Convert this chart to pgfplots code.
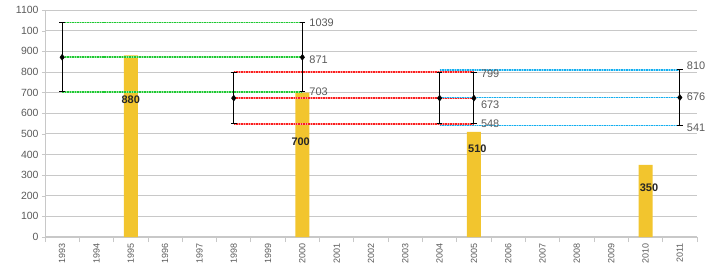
\documentclass[border=0pt]{standalone}
\usepackage{pgfplots}
\pgfplotsset{compat=1.18}
\usepackage{fontspec}
\setmainfont{Liberation Sans}
\definecolor{barc}{RGB}{242,197,46}
\definecolor{gridc}{RGB}{200,200,200}
\definecolor{txtc}{RGB}{90,90,90}
\definecolor{gc}{RGB}{30,200,50}
\definecolor{rc}{RGB}{250,30,30}
\definecolor{bc}{RGB}{20,175,240}
\begin{document}
\begin{tikzpicture}
\begin{axis}[
  scale only axis, width=652bp, height=227bp,
  xmin=-0.5, xmax=18.5, ymin=0, ymax=1100,
  axis lines*=left,
  axis line style={draw=gridc, line width=0.8pt},
  x axis line style={line width=1.4pt, -},
  y axis line style={-},
  ytick={0,100,...,1100},
  yticklabels={0,100,200,300,400,500,600,700,800,900,100,1100},
  xtick={0,...,18},
  xticklabels={1993,1994,1995,1996,1997,1998,1999,2000,2001,2002,2003,2004,2005,2006,2007,2008,2009,2010,2011},
  x tick label style={rotate=90, anchor=east, font=\fontsize{9}{10}\selectfont, text=txtc},
  y tick label style={font=\fontsize{10.5}{11}\selectfont, text=txtc},
  minor xtick={-0.5,0.5,...,18.5},
  major x tick style={draw=none},
  minor x tick style={draw=gridc, line width=0.8pt},
  minor tick length=5bp,
  major tick length=3bp,
  y tick style={draw=gridc},
  tick align=outside,
  ymajorgrids, major grid style={draw=gridc, line width=0.7pt},
  /pgf/number format/assume math mode=true,
  clip=false,
  dl/.style={line width=1.6pt, dash pattern=on 1.5pt off 1pt},
  ul/.style={line width=1.6pt},
]
% bars
\addplot[ybar, bar width=14bp, fill=barc, draw=none] coordinates {(2,880) (7,700) (12,510) (17,350)};
% green dotted lines
\addplot[draw=gc!45, ul] coordinates {(0,1039) (7,1039)};
\addplot[draw=gc!45, ul] coordinates {(0,871) (7,871)};
\addplot[draw=gc!45, ul] coordinates {(0,703) (7,703)};
\addplot[draw=gc, dl] coordinates {(0,1039) (7,1039)};
\addplot[draw=gc, dl] coordinates {(0,871) (7,871)};
\addplot[draw=gc, dl] coordinates {(0,703) (7,703)};
% red dotted lines
\addplot[draw=rc!45, ul] coordinates {(5,799) (12,799)};
\addplot[draw=rc!45, ul] coordinates {(5,673) (12,673)};
\addplot[draw=rc!45, ul] coordinates {(5,548) (12,548)};
\addplot[draw=rc, dl] coordinates {(5,799) (12,799)};
\addplot[draw=rc, dl] coordinates {(5,673) (12,673)};
\addplot[draw=rc, dl] coordinates {(5,548) (12,548)};
% blue dotted lines
\addplot[draw=bc!45, ul] coordinates {(11,810) (18,810)};
\addplot[draw=bc!45, ul] coordinates {(11,676) (18,676)};
\addplot[draw=bc!45, ul] coordinates {(11,541) (18,541)};
\addplot[draw=bc, dl] coordinates {(11,810) (18,810)};
\addplot[draw=bc, dl] coordinates {(11,676) (18,676)};
\addplot[draw=bc, dl] coordinates {(11,541) (18,541)};
% error bars
\addplot[black, only marks, mark=diamond*, mark size=3pt,
  error bars/.cd, y dir=both, y explicit,
  error bar style={line width=1.1pt, black},
  error mark options={rotate=90, mark size=2.8bp, line width=1.1pt, black}]
  coordinates {
  (0,871) += (0,168) -= (0,168)
  (7,871) += (0,168) -= (0,168)
  (5,673) += (0,126) -= (0,125)
  (11,673) += (0,126) -= (0,125)
  (12,673) += (0,126) -= (0,125)
  (18,676) += (0,134) -= (0,135)
  };
% value labels
\begin{scope}[every node/.style={font=\fontsize{11}{12}\selectfont, text=txtc, inner sep=0pt}]
\node[anchor=west] at (axis cs:7.2,1039) {1039};
\node[anchor=west] at (axis cs:7.2,857) {871};
\node[anchor=west] at (axis cs:7.2,705) {703};
\node[anchor=west] at (axis cs:12.2,791) {799};
\node[anchor=west] at (axis cs:12.2,641) {673};
\node[anchor=west] at (axis cs:12.2,548) {548};
\node[anchor=west] at (axis cs:18.2,830) {810};
\node[anchor=west] at (axis cs:18.2,680) {676};
\node[anchor=west] at (axis cs:18.2,529) {541};
\end{scope}
\begin{scope}[every node/.style={font=\bfseries\fontsize{11}{12}\selectfont, text=black!85, inner sep=0pt}]
\node at (axis cs:2.0,664) {880};
\node at (axis cs:6.95,460) {700};
\node at (axis cs:12.1,426) {510};
\node at (axis cs:17.1,237) {350};
\end{scope}
\end{axis}
\pgfresetboundingbox
\useasboundingbox (-45bp,-34bp) rectangle (663bp,237bp);
\end{tikzpicture}
\end{document}
